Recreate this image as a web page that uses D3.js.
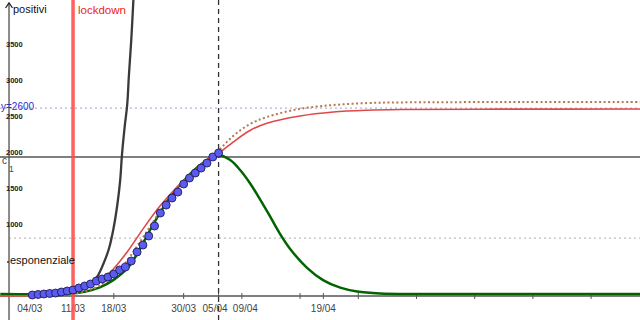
<!DOCTYPE html>
<html>
<head>
<meta charset="utf-8">
<script src="https://cdn.jsdelivr.net/npm/d3@7"></script>
<style>
    html, body { margin: 0; padding: 0; background: #fff; }
    svg { display: block; font-family: "Liberation Sans", Arial, sans-serif; }
</style>
</head>
<body>
<svg width="640" height="320"></svg>
<script>
// day 1 = 01/03, day 32 = 01/04
const tickDays = [4, 11, 18, 30, 36, 40, 54];
const tickLabels = ["04/03", "11/03", "18/03", "30/03", "05/04", "09/04", "19/04"];
const majorTicks = [50, 60, 70, 80, 90, 100];
const yTicks = [1000, 1500, 2000, 2500, 3000, 3500];

// positivi, one point per day (04/03 .. 05/04)
const pointDays = [4, 5, 6, 7, 8, 9, 10, 11, 12, 13, 14, 15, 16, 17, 18, 19, 20,
    21, 22, 23, 24, 25, 26, 27, 28, 29, 30, 31, 32, 33, 34, 35, 36];
const pointValues = [14, 21, 28, 35, 41, 55, 69, 83, 111, 138, 166, 207, 235, 263, 304, 360, 401,
    484, 609, 705, 830, 968, 1148, 1258, 1355, 1438, 1549, 1632, 1701, 1770, 1839, 1923, 1978];

// curves, [day, value]
const logisticRed = [[-1.5, 0], [5.3, 10], [8.8, 28], [11, 55], [14.4, 155], [17.4, 330], [20.3, 610],
    [23, 925], [25.9, 1240], [28.9, 1510], [31.6, 1715], [34.5, 1909], [36.3, 1992], [38.5, 2130],
    [41.4, 2290], [44.3, 2390], [50, 2490], [55.7, 2545], [61.5, 2570], [67.2, 2580], [84.4, 2585], [108.4, 2586]];
const logisticDotted = [[-1.5, 0], [8.8, 14], [12.2, 50], [15.6, 145], [19.1, 370], [22.5, 750],
    [25.9, 1160], [29.4, 1500], [32.8, 1775], [35.9, 2005], [38.5, 2213], [41.4, 2379], [44.3, 2476],
    [50, 2590], [55.7, 2642], [61.5, 2669], [67.2, 2678], [84.4, 2683], [108.4, 2684]];
const gaussGreen = [[-1.5, 28], [8.8, 28], [12.2, 48], [15.6, 120], [17.9, 220], [20.3, 380], [22, 580],
    [24.7, 982], [27.7, 1369], [30.6, 1646], [33.3, 1839], [35.9, 1950], [38, 1881], [39.7, 1743],
    [41.4, 1560], [43.1, 1340], [44.8, 1107], [46.4, 880], [48.3, 650], [51.2, 390], [53.95, 220],
    [56.9, 115], [59.8, 62], [63.7, 36], [70.6, 28], [108.4, 28]];
const expBlack = [[5.3, 4], [8.8, 14], [10, 30], [11.7, 69], [13.4, 130], [15.1, 263], [16.2, 443],
    [17.2, 664], [17.9, 913], [18.6, 1259], [19.1, 1604], [19.4, 1950], [19.9, 2365], [20.3, 2642],
    [20.6, 3057], [21, 3541], [21.4, 4150]];

const c1Value = 1923;
const guideValue = 800;
const asymptoteValue = 2600;
const lockdownDay = 11;
const todayDay = 36;

const width = 640,
    height = 320;
const svg = d3.select("svg");

const x = d3.scaleLinear().domain([-1.55, 108.4]).range([0, 640]);
const y = d3.scaleLinear().domain([0, 3500]).range([296, 43]);

const line = d3
    .line()
    .x((d) => x(d[0]))
    .y((d) => y(d[1]))
    .curve(d3.curveCatmullRom.alpha(0.5));

// guide lines
svg.append("line")
    .attr("x1", x(0)).attr("x2", width)
    .attr("y1", y(guideValue)).attr("y2", y(guideValue))
    .attr("stroke", "#bdbdbd").attr("stroke-width", 1.2).attr("stroke-dasharray", "2,3");
svg.append("line")
    .attr("x1", 0).attr("x2", width)
    .attr("y1", y(asymptoteValue)).attr("y2", y(asymptoteValue))
    .attr("stroke", "#b4b4d8").attr("stroke-width", 1.2).attr("stroke-dasharray", "2,3");

// axes
svg.append("line")
    .attr("x1", 0).attr("x2", width)
    .attr("y1", y(0)).attr("y2", y(0))
    .attr("stroke", "#555").attr("stroke-width", 1.5);
svg.append("line")
    .attr("x1", x(0)).attr("x2", x(0))
    .attr("y1", 3).attr("y2", height)
    .attr("stroke", "#666").attr("stroke-width", 1.5);
svg.append("path")
    .attr("d", `M${x(0) - 3.5},${8} L${x(0)},${3} L${x(0) + 3.5},${8}`)
    .attr("fill", "none").attr("stroke", "#222").attr("stroke-width", 1.3);

// C1 line
svg.append("line")
    .attr("x1", 0).attr("x2", width)
    .attr("y1", y(c1Value)).attr("y2", y(c1Value))
    .attr("stroke", "#555").attr("stroke-width", 1.5);

// x ticks
svg.append("g")
    .selectAll("line")
    .data(tickDays.concat(majorTicks))
    .enter()
    .append("line")
    .attr("x1", (d) => x(d)).attr("x2", (d) => x(d))
    .attr("y1", y(0) - 3).attr("y2", y(0) + 3)
    .attr("stroke", "#555").attr("stroke-width", 1);

// labels sit a little off their ticks where they would collide
const nudge = { "04/03": -2.5, "05/04": -3.5, "09/04": 3.5 };
svg.append("g")
    .selectAll("text")
    .data(tickDays)
    .enter()
    .append("text")
    .attr("x", (d, i) => x(d) + (nudge[tickLabels[i]] || 0))
    .attr("y", 312)
    .attr("text-anchor", "middle")
    .attr("font-size", 10)
    .attr("fill", "#444")
    .text((d, i) => tickLabels[i]);

// y tick labels
svg.append("g")
    .selectAll("text")
    .data(yTicks)
    .enter()
    .append("text")
    .attr("x", 6)
    .attr("y", (d) => y(d) + 3.5)
    .attr("font-size", 7.5)
    .attr("font-weight", "bold")
    .attr("fill", "#222")
    .text((d) => d);

// curves
svg.append("path")
    .datum(expBlack)
    .attr("d", line)
    .attr("fill", "none").attr("stroke", "#3a3a3a").attr("stroke-width", 2.3);
svg.append("path")
    .datum(gaussGreen)
    .attr("d", line)
    .attr("fill", "none").attr("stroke", "#006400").attr("stroke-width", 2.5);
svg.append("path")
    .datum(logisticDotted)
    .attr("d", line)
    .attr("fill", "none").attr("stroke", "#b8784e").attr("stroke-width", 2).attr("stroke-dasharray", "2,2.5");
svg.append("path")
    .datum(logisticRed)
    .attr("d", line)
    .attr("fill", "none").attr("stroke", "#e04848").attr("stroke-width", 1.6);

// vertical lines
svg.append("line")
    .attr("x1", x(todayDay)).attr("x2", x(todayDay))
    .attr("y1", 0).attr("y2", height)
    .attr("stroke", "#333").attr("stroke-width", 1.3).attr("stroke-dasharray", "5,4");
svg.append("line")
    .attr("x1", x(lockdownDay)).attr("x2", x(lockdownDay))
    .attr("y1", 0).attr("y2", height)
    .attr("stroke", "#ff5050").attr("stroke-width", 3.5).attr("opacity", 0.9);

// points
svg.append("g")
    .selectAll("circle")
    .data(pointDays)
    .enter()
    .append("circle")
    .attr("cx", (d) => x(d))
    .attr("cy", (d, i) => y(pointValues[i]))
    .attr("r", 4)
    .attr("fill", "#5b5bf0")
    .attr("stroke", "#1c1c5a")
    .attr("stroke-width", 0.9);

// labels
svg.append("text").attr("x", 13).attr("y", 13).attr("font-size", 11).attr("fill", "#111").text("positivi");
svg.append("text").attr("x", 78).attr("y", 14).attr("font-size", 11.5).attr("fill", "#ee2222").text("lockdown");
svg.append("text").attr("x", 1).attr("y", y(asymptoteValue) + 2).attr("font-size", 10).attr("fill", "#2b2bd0").text("y=2600");
svg.append("text").attr("x", 10).attr("y", 264).attr("font-size", 11).attr("fill", "#111").text("esponenziale");
svg.append("circle").attr("cx", 8).attr("cy", 262).attr("r", 0.9).attr("fill", "#222");
svg.append("text").attr("x", 2).attr("y", 164).attr("font-size", 10).attr("fill", "#444").text("c");
svg.append("text").attr("x", 9).attr("y", 172).attr("font-size", 8.5).attr("fill", "#444").text("1");
</script>
</body>
</html>
